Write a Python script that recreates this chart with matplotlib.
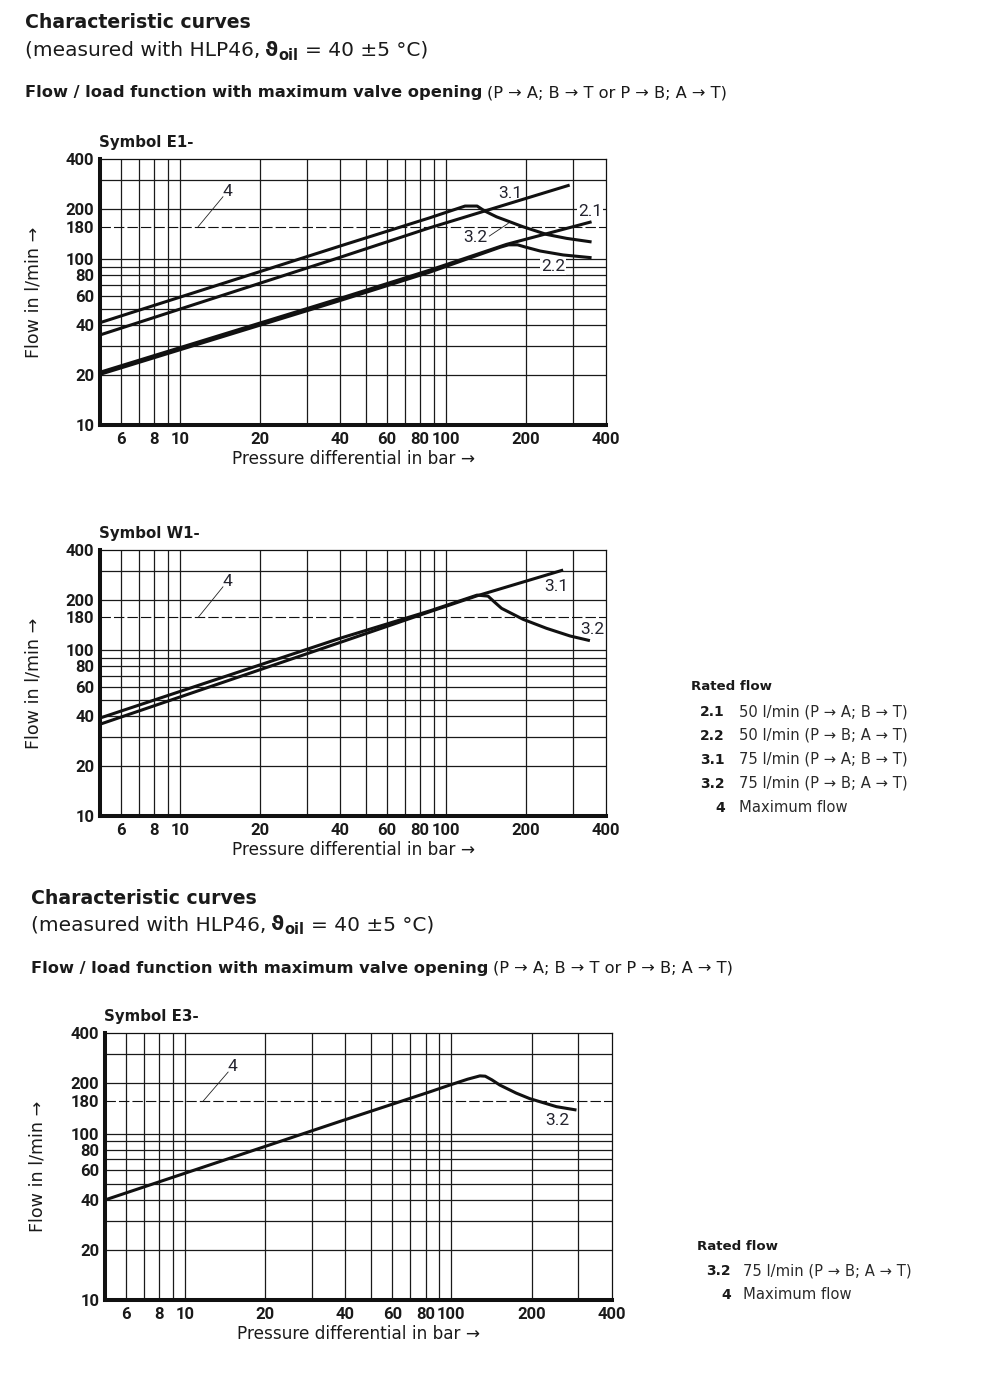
import matplotlib
matplotlib.use('Agg')
import matplotlib.pyplot as plt
from matplotlib.ticker import FixedLocator, FixedFormatter, NullLocator

# ---------------- data ----------------
X_GRID = [6, 7, 8, 9, 10, 20, 30, 40, 50, 60, 70, 80, 90, 100, 200, 300]
Y_GRID = [20, 30, 40, 50, 60, 70, 80, 90, 100, 200, 300]
X_TICKS = [6, 8, 10, 20, 40, 60, 80, 100, 200, 400]
X_TICK_LABELS = ['6', '8', '10', '20', '40', '60', '80', '100', '200', '400']
Y_TICKS = [10, 20, 40, 60, 80, 100, 157, 200, 400]
Y_TICK_LABELS = ['10', '20', '40', '60', '80', '100', '180', '200', '400']
MAX_FLOW = 157  # dashed "maximum flow" line (drawn where the reference draws it, labelled 180)

# Symbol E1-
E1_31_x = [5, 40, 87, 292]
E1_31_y = [34.9, 102.6, 154.6, 279.7]
E1_32_x = [5, 40, 87, 118, 131, 140, 155, 195, 239, 284, 353]
E1_32_y = [41.4, 120, 177.6, 209, 209, 195, 180, 156.8, 141, 133.5, 127]
E1_21_x = [5, 40, 87, 169, 353]
E1_21_y = [20.8, 58, 85.9, 122.8, 168]
E1_22_x = [5, 40, 87, 160, 172, 186, 200, 226, 276, 353]
E1_22_y = [20.2, 56.3, 83.5, 118, 122, 122, 118, 112, 106, 102]

# Symbol W1-
W1_31_x = [5, 40, 87, 131, 276]
W1_31_y = [35.7, 111, 170, 212, 303]
W1_32_x = [5, 40, 87, 131, 144, 153, 162, 195, 239, 293, 348]
W1_32_y = [38.9, 117.6, 172, 214, 211, 193, 178, 153, 135, 121.4, 113.8]

# Symbol E3-
E3_32_x = [5, 38, 83, 98.6, 115, 128, 134, 142, 152, 175, 197, 248, 295]
E3_32_y = [39.9, 118, 178, 195.5, 212, 222, 221, 210, 195.5, 175, 162, 145, 138.4]

LEGEND1_NUM = ['2.1', '2.2', '3.1', '3.2', '4']
LEGEND1_TXT = ['50 l/min (P → A; B → T)', '50 l/min (P → B; A → T)',
               '75 l/min (P → A; B → T)', '75 l/min (P → B; A → T)', 'Maximum flow']
LEGEND2_NUM = ['3.2', '4']
LEGEND2_TXT = ['75 l/min (P → B; A → T)', 'Maximum flow']

# ---------------- figure ----------------
W, H = 982, 1384
FONT = ['DejaVu Sans']
TICKFONT = ['Roboto', 'DejaVu Sans']
plt.rcParams['font.family'] = FONT
plt.rcParams['lines.scale_dashes'] = False
TXT = '#1a1a1a'
fig = plt.figure(figsize=(W / 100, H / 100), dpi=100)
renderer = fig.canvas.get_renderer()


def fx(x):
    return x / W


def fy(y):
    return 1 - y / H


def seq_text(x_px, y_px, pieces):
    x = x_px
    for s, kw in pieces:
        kw = dict(kw)
        gap = kw.pop('gap', 0)
        dy = kw.pop('dy', 0)
        x += gap
        t = fig.text(fx(x), fy(y_px + dy), s, va='baseline', ha='left', color=TXT, **kw)
        x += t.get_window_extent(renderer=renderer).width


def header(x0, y0):
    fig.text(fx(x0), fy(y0), 'Characteristic curves', fontsize=13.6, fontweight='bold',
             va='baseline', color=TXT)
    seq_text(x0, y0 + 27, [('(measured with HLP46,', dict(fontsize=14.5)),
                           ('ϑ', dict(fontsize=14.5, fontweight='bold', gap=5)),
                           ('oil', dict(fontsize=10.5, fontweight='bold', dy=4)),
                           ('= 40 ±5 °C)', dict(fontsize=14.5, gap=6))])
    seq_text(x0, y0 + 69, [('Flow / load function with maximum valve opening',
                            dict(fontsize=11.7, fontweight='bold')),
                           ('(P → A; B → T or P → B; A → T)', dict(fontsize=11.7, gap=5))])


def make_axes(left, right, top, bottom, title):
    ax = fig.add_axes([fx(left), fy(bottom), fx(right - left), (bottom - top) / H])
    ax.set_xscale('log')
    ax.set_yscale('log')
    ax.set_xlim(5, 400)
    ax.set_ylim(10, 400)
    ax.xaxis.set_major_locator(FixedLocator(X_TICKS))
    ax.xaxis.set_major_formatter(FixedFormatter(X_TICK_LABELS))
    ax.yaxis.set_major_locator(FixedLocator(Y_TICKS))
    ax.yaxis.set_major_formatter(FixedFormatter(Y_TICK_LABELS))
    ax.xaxis.set_minor_locator(NullLocator())
    ax.yaxis.set_minor_locator(NullLocator())
    for gx in X_GRID:
        ax.axvline(gx, color='#1a1a1a', lw=0.9, zorder=1)
    for gy in Y_GRID:
        ax.axhline(gy, color='#1a1a1a', lw=0.9, zorder=1)
    ax.tick_params(which='both', length=0)
    ax.tick_params(axis='y', pad=4)
    ax.tick_params(axis='x', pad=5)
    for lab in ax.get_xticklabels() + ax.get_yticklabels():
        lab.set_fontweight('bold')
        lab.set_fontsize(12)
        lab.set_color(TXT)
        lab.set_family(TICKFONT)
    for s in ['left', 'bottom']:
        ax.spines[s].set_linewidth(2.9)
        ax.spines[s].set_color('#111')
    for s in ['top', 'right']:
        ax.spines[s].set_linewidth(0.9)
        ax.spines[s].set_color('#111')
    ax.axhline(MAX_FLOW, color='#111', lw=0.8, dashes=(7.5, 2.2), zorder=1)
    fig.text(fx(left - 1), fy(top - 12), title, fontsize=10.8, fontweight='bold',
             va='baseline', color=TXT)
    fig.text(fx((left + right) / 2), fy(bottom + 34), 'Pressure differential in bar →',
             fontsize=12.2, ha='center', va='center', color=TXT)
    fig.text(fx(left - 67), fy((top + bottom) / 2), 'Flow in l/min →', fontsize=12.6,
             rotation=90, ha='center', va='center', color=TXT)
    return ax


def curve(ax, x, y):
    ax.plot(x, y, color='#111', lw=2.2, solid_capstyle='butt', solid_joinstyle='round',
            zorder=3)


def label(ax, s, x, y, box=False):
    kw = {}
    if box:
        kw['bbox'] = dict(facecolor='white', edgecolor='none', pad=0.6)
    ax.text(x, y, s, fontsize=12.5, ha='center', va='center', color='#23232e',
            family=TICKFONT, zorder=4, **kw)


def leader(ax, x, y):
    ax.plot(x, y, color='#222', lw=0.6, zorder=2)


# ---------- block 1 ----------
header(25, 28.5)

ax1 = make_axes(100, 606, 159.3, 425, 'Symbol E1-')
curve(ax1, E1_21_x, E1_21_y)
curve(ax1, E1_22_x, E1_22_y)
curve(ax1, E1_31_x, E1_31_y)
curve(ax1, E1_32_x, E1_32_y)
label(ax1, '3.1', 174, 250)
label(ax1, '2.1', 348, 195, box=True)
label(ax1, '2.2', 253, 90, box=True)
label(ax1, '3.2', 129, 135)
leader(ax1, [145.6, 171.6], [137.8, 164.4])
label(ax1, '4', 15.1, 257)
leader(ax1, [14.5, 11.7], [237.8, 157])

ax2 = make_axes(100, 606, 550, 816, 'Symbol W1-')
curve(ax2, W1_31_x, W1_31_y)
curve(ax2, W1_32_x, W1_32_y)
label(ax2, '3.1', 261, 240)
label(ax2, '3.2', 355, 133)
label(ax2, '4', 15.1, 260)
leader(ax2, [14.5, 11.7], [240, 157])


def legend(x_title, y_title, x_num, x_txt, y_first, nums, txts):
    fig.text(fx(x_title), fy(y_title), 'Rated flow', fontsize=9.6, fontweight='bold',
             va='baseline', color=TXT)
    for i, (n, t) in enumerate(zip(nums, txts)):
        yb = y_first + 24 * i
        fig.text(fx(x_num), fy(yb), n, fontsize=10, fontweight='bold', ha='right',
                 va='baseline', color=TXT)
        fig.text(fx(x_txt), fy(yb), t, fontsize=10.6, ha='left', va='baseline',
                 color='#2a2a2a')


legend(691, 690, 725, 739, 716, LEGEND1_NUM, LEGEND1_TXT)

# ---------- block 2 ----------
header(31, 903.5)
ax3 = make_axes(105, 611.7, 1033.3, 1300, 'Symbol E3-')
curve(ax3, E3_32_x, E3_32_y)
label(ax3, '3.2', 250.6, 120.5)
label(ax3, '4', 15.1, 252)
leader(ax3, [14.5, 11.7], [234, 157])

legend(697, 1250, 731, 743, 1275, LEGEND2_NUM, LEGEND2_TXT)

fig.savefig('out.png', dpi=100, facecolor='white')
